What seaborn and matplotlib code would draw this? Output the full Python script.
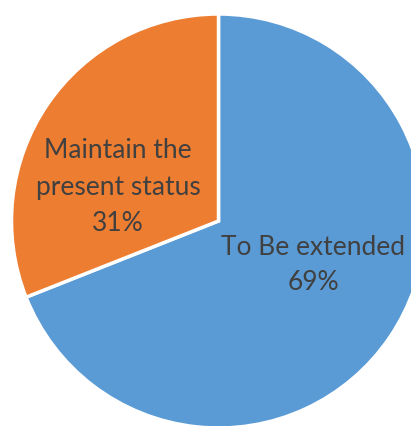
import matplotlib
matplotlib.use("Agg")
import matplotlib.pyplot as plt
import seaborn as sns

categories = ["To Be extended", "Maintain the\npresent status"]
values = [69, 31]
colors = ["#5B9BD5", "#ED7D31"]

sns.set_theme(style="white")
plt.rcParams['font.family'] = ['Lato', 'DejaVu Sans']

W, H = 411, 426
fig = plt.figure(figsize=(W / 100, H / 100), dpi=100)
ax = fig.add_axes([0, 0, 1, 1])

cx, cy, R = 218.5, 221.0, 207.0
ax.pie(values, colors=colors, startangle=90, counterclock=False,
       wedgeprops=dict(edgecolor="white", linewidth=2.5))
ax.set_aspect("auto")
ax.set_xlim(-cx / R, (W - cx) / R)
ax.set_ylim(-(H - cy) / R, cy / R)
ax.axis("off")

label_pos = [((313 - cx) / R, (cy - 265) / R), ((118 - cx) / R, (cy - 187) / R)]
for cat, v, (x, y) in zip(categories, values, label_pos):
    ax.text(x, y, f"{cat}\n{v}%", ha="center", va="center", fontsize=19,
            color="#404040", linespacing=1.55)

fig.savefig("out.png", dpi=100)
